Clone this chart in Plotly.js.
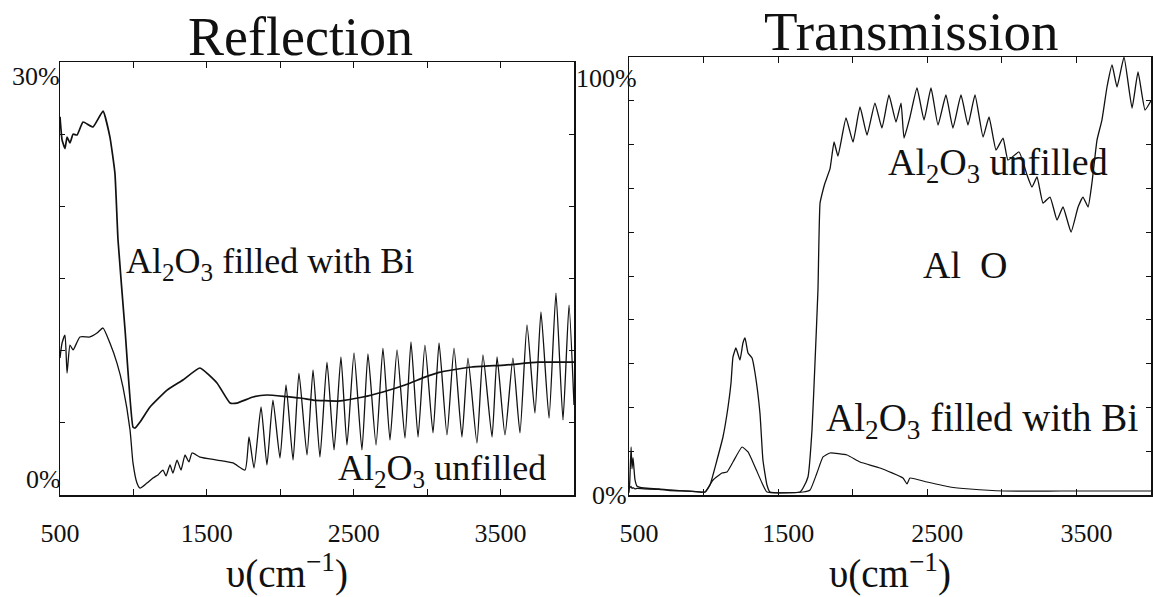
<!DOCTYPE html>
<html>
<head>
<meta charset="utf-8">
<script src="https://cdn.plot.ly/plotly-3.0.1.min.js"></script>
<style>
  html, body { margin: 0; padding: 0; background: #fff; }
  #chart { width: 1153px; height: 597px; }
</style>
</head>
<body>
<div id="chart"></div>
<script>
// ---------------- DATA ----------------
// Reflection, Al2O3 filled with Bi (wavenumber cm^-1, reflectance %)
const reflBiX = [500,514,534,548,568,589,616,657,725,793,840,874,895,943,997,1011,1045,1113,1229,1337,1453,1569,1658,1705,1814,1909,2134,2223,2393,2563,2699,2849,2985,3081,3305,3530,3755,4000];
const reflBiY = [26.2,24.6,24.0,24.8,24.4,25.0,24.94,25.84,25.5,26.6,24.8,22.3,17.67,11.43,4.71,4.64,5.06,6.10,7.27,7.97,8.8,7.76,6.37,6.37,6.79,6.93,6.72,6.58,6.51,6.79,7.14,7.62,8.17,8.5,8.87,9.0,9.2,9.2];

// Reflection, Al2O3 unfilled
const reflUnX = [500,514,534,548,568,589,636,704,752,793,840,888,929,977,997,1024,1045,1092,1133,1167,1201,1222,1249,1269,1297,1324,1351,1378,1399,1453,1569,1678,1760,
  1787,1821,1869,1909,1950,1998,2039,2087,2127,2182,2223,2270,2318,2366,2413,2454,2502,2556,2597,2652,2699,2747,2795,2849,2890,2938,2985,3040,3081,3135,3183,3237,3278,3339,3380,3442,3476,3530,3584,3632,3680,3734,3775,3830,3877,3925,3966,4000];
const reflUnY = [9.5,10.53,11.08,8.45,10.39,10.05,10.95,10.95,11.22,11.57,10.53,9.14,7.48,4.5,2.22,0.83,0.48,0.83,1.18,1.39,1.73,1.32,2.08,1.52,2.42,1.73,2.77,2.29,2.91,2.63,2.42,2.22,1.73,
  4.02,1.87,6.10,2.08,6.58,2.56,7.62,2.42,8.45,2.77,8.66,2.63,9.21,3.12,9.56,3.46,9.84,3.12,9.77,3.46,10.18,3.81,10.05,3.95,10.6,4.02,10.39,4.30,10.53,4.16,10.18,4.02,9.49,3.60,9.70,4.02,9.56,4.16,9.49,4.30,11.78,5.68,12.68,5.33,13.99,5.20,13.16,6.24];

// Transmission, Al2O3 unfilled (%)
const transUnX = [500,505,514,520,527,540,554,600,700,775,900,1010,1043,1090,1130,1164,1184,1197,1217,1244,1264,1278,1298,1325,1345,1378,1398,1425,1445,1647,1667,1700,1727,1747,1767,1781,1801,1814,1848,1875,1901,1955,2002,2049,2096,2149,2196,2243,2290,2324,2344,2384,2431,2478,2525,2572,2625,2672,2726,2773,2820,2874,2914,2961,3008,3041,3115,3169,3202,3236,3276,3323,3370,3410,3464,3511,3544,3578,3604,3638,3671,3705,3739,3772,3819,3873,3913,3960,4000];
const transUnY = [0.5,3.0,10.96,6.0,8.5,3.5,2.0,1.6,1.4,1.14,0.9,0.68,2.28,7.99,13.24,20.09,25.57,31.5,33.56,30.82,34.7,35.84,32.42,31.28,27.85,18.72,7.99,2.28,0.68,0.68,1.6,4.11,14.84,30.14,46.8,66.66,69.63,71.23,74.5,80.59,77.4,86.07,80.59,88.58,82.19,89.49,83.79,91.32,85.16,89.49,81.5,86.3,92.92,85.61,92.92,84.47,91.32,83.79,91.32,84.47,91.32,81.73,86.3,78.76,81.5,76.48,78.31,73.06,70.32,72.6,66.66,68.03,62.78,65.75,60.04,65.75,68.03,65.75,71.23,81.04,85.61,93.15,98.17,93.15,100.0,88.35,96.57,87.9,90.0];

// Transmission, Al2O3 filled with Bi (%)
const transBiX = [500,505,514,520,527,540,554,600,700,775,900,1010,1063,1124,1157,1197,1258,1298,1345,1392,1425,1667,1714,1760,1801,1848,1962,2049,2183,2337,2364,2384,2498,2652,2786,3008,3390,4000];
const transBiY = [1.8,1.6,2.0,1.5,1.7,1.4,1.5,1.4,1.3,1.0,0.9,0.68,3.42,5.02,5.25,7.53,10.96,9.82,6.39,2.74,0.68,0.68,1.14,5.02,8.68,9.59,9.13,7.53,6.16,3.88,2.51,3.88,2.97,1.83,1.37,0.91,0.91,0.91];

// Tick labels (major) and tick-mark spacing (minor)
const xTickVals = [500,1500,2500,3500];
const xTickText = ['500','1500','2500','3500'];
const xTickStep = 500;
const reflRange = [0, 30];
const transRange = [0, 100];
const xRange = [500, 4000];

// Texts
const panelTitles = ['Reflection', 'Transmission'];
const xTitle = 'υ(cm<sup>−1</sup>)';
const reflYLabels = ['30%', '0%'];
const transYLabels = ['100%', '0%'];
const labelBi = 'Al<sub>2</sub>O<sub>3</sub> filled with Bi';
const labelUn = 'Al<sub>2</sub>O<sub>3</sub> unfilled';
const labelBroken = 'Al\u2002O';

// ---------------- LAYOUT ----------------
const W = 1153, H = 597;
const px = x => x / W;
const py = y => 1 - y / H;
const SERIF = 'Liberation Serif, Times New Roman, serif';
const INK = '#111';

const lineStyle = (w, s) => ({ color: INK, width: w, shape: 'spline', smoothing: s });

const traces = [
  { x: reflBiX, y: reflBiY, xaxis: 'x', yaxis: 'y', mode: 'lines', line: lineStyle(1.7, 0.4), name: 'Al2O3 filled with Bi (R)' },
  { x: reflUnX, y: reflUnY, xaxis: 'x', yaxis: 'y', mode: 'lines', line: lineStyle(1.3, 0.5), name: 'Al2O3 unfilled (R)' },
  { x: transUnX, y: transUnY, xaxis: 'x2', yaxis: 'y2', mode: 'lines', line: lineStyle(1.3, 0.4), name: 'Al2O3 unfilled (T)' },
  { x: transBiX, y: transBiY, xaxis: 'x2', yaxis: 'y2', mode: 'lines', line: lineStyle(1.2, 0.4), name: 'Al2O3 filled with Bi (T)' }
];

const xAxisBase = {
  range: xRange,
  tickmode: 'array',
  tickvals: xTickVals,
  ticktext: xTickText,
  ticks: 'inside',
  ticklen: 6,
  tickwidth: 1,
  tickcolor: INK,
  minor: { tickmode: 'linear', tick0: xRange[0], dtick: xTickStep, ticks: 'inside', ticklen: 6, tickwidth: 1, tickcolor: INK, showgrid: false },
  showline: true,
  linecolor: INK,
  linewidth: 1.5,
  mirror: 'ticks',
  showgrid: false,
  zeroline: false,
  tickfont: { family: SERIF, size: 26, color: INK },
  ticklabelstandoff: 14,
  fixedrange: true
};
const yAxisBase = {
  ticks: 'inside',
  ticklen: 5,
  tickwidth: 1,
  tickcolor: INK,
  showline: true,
  linecolor: INK,
  linewidth: 1.5,
  mirror: 'ticks',
  showgrid: false,
  zeroline: false,
  showticklabels: false,
  fixedrange: true
};

const annText = (text, x, y, size, xanchor) => ({
  text: text, xref: 'paper', yref: 'paper', x: px(x), y: py(y),
  xanchor: xanchor || 'left', yanchor: 'middle', showarrow: false,
  font: { family: SERIF, size: size, color: INK }
});

const layout = {
  width: W, height: H,
  margin: { l: 0, r: 0, t: 0, b: 0 },
  paper_bgcolor: '#fff',
  plot_bgcolor: '#fff',
  showlegend: false,
  hovermode: false,
  xaxis: Object.assign({}, xAxisBase, { domain: [px(60), px(574)], anchor: 'y' }),
  yaxis: Object.assign({}, yAxisBase, { domain: [py(495), py(62)], range: reflRange, dtick: 5, tick0: 0, anchor: 'x' }),
  xaxis2: Object.assign({}, xAxisBase, { domain: [px(629), px(1151)], anchor: 'y2', ticklabelshift: 10 }),
  yaxis2: Object.assign({}, yAxisBase, { domain: [py(495), py(57)], range: transRange, dtick: 10, tick0: 0, anchor: 'x2' }),
  annotations: [
    annText(panelTitles[0], 300, 37, 54, 'center'),
    annText(panelTitles[1], 911, 31, 55, 'center'),
    annText(xTitle, 287, 571, 39, 'center'),
    annText(xTitle, 890, 571, 39, 'center'),
    annText(reflYLabels[0], 62, 76, 26, 'right'),
    annText(reflYLabels[1], 63, 479, 26, 'right'),
    annText(transYLabels[0], 639, 78, 26, 'right'),
    annText(transYLabels[1], 629, 495, 26, 'right'),
    annText(labelBi, 124, 263, 36, 'left'),
    annText(labelUn, 336, 470, 36, 'left'),
    annText(labelUn, 886, 165, 38, 'left'),
    annText(labelBroken, 921, 265, 38, 'left'),
    annText(labelBi, 824, 420, 39, 'left')
  ]
};

Plotly.newPlot('chart', traces, layout, { displayModeBar: false, staticPlot: true });
</script>
</body>
</html>
